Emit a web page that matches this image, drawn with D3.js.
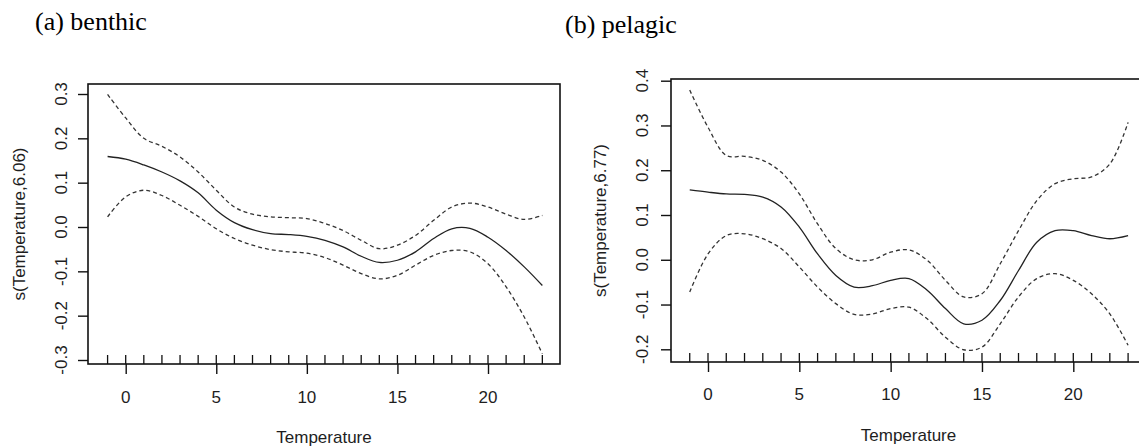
<!DOCTYPE html>
<html><head><meta charset="utf-8">
<script src="https://cdn.jsdelivr.net/npm/d3@7"></script>
<style>
html,body{margin:0;padding:0;background:#fff;}
svg{display:block;}
</style></head>
<body>
<svg id="chart" width="1139" height="448"></svg>
<script>
// ---------- data ----------
const temperature = [-1,0,1,2,3,4,5,6,7,8,9,10,11,12,13,14,15,16,17,18,19,20,21,22,23];

const benthicFit   = [0.159,0.153,0.140,0.124,0.104,0.077,0.038,0.010,-0.006,-0.015,-0.017,-0.021,-0.030,-0.045,-0.066,-0.080,-0.075,-0.056,-0.026,-0.004,-0.003,-0.023,-0.053,-0.090,-0.132];
const benthicUpper = [0.299,0.246,0.200,0.182,0.158,0.124,0.083,0.045,0.029,0.023,0.021,0.019,0.008,-0.008,-0.030,-0.049,-0.041,-0.019,0.015,0.045,0.054,0.045,0.029,0.017,0.026];
const benthicLower = [0.023,0.068,0.083,0.071,0.049,0.024,-0.004,-0.026,-0.041,-0.051,-0.056,-0.059,-0.069,-0.086,-0.105,-0.117,-0.109,-0.086,-0.064,-0.053,-0.056,-0.083,-0.135,-0.203,-0.286];

const pelagicFit   = [0.156,0.151,0.147,0.146,0.140,0.118,0.073,0.013,-0.035,-0.061,-0.058,-0.046,-0.042,-0.068,-0.109,-0.143,-0.135,-0.091,-0.024,0.039,0.065,0.065,0.054,0.047,0.054];
const pelagicUpper = [0.379,0.296,0.233,0.231,0.222,0.196,0.147,0.080,0.025,0.000,0.000,0.017,0.022,-0.001,-0.046,-0.083,-0.076,-0.009,0.065,0.132,0.170,0.181,0.185,0.214,0.307];
const pelagicLower = [-0.072,0.013,0.054,0.058,0.047,0.025,-0.016,-0.061,-0.098,-0.122,-0.121,-0.109,-0.106,-0.132,-0.173,-0.201,-0.195,-0.143,-0.083,-0.042,-0.031,-0.046,-0.076,-0.121,-0.191];

const xTicks  = [0,5,10,15,20];
const yTicksA = [-0.3,-0.2,-0.1,0.0,0.1,0.2,0.3];
const yTicksB = [-0.2,-0.1,0.0,0.1,0.2,0.3,0.4];

const titles = ["(a) benthic","(b) pelagic"];
const yTitles = ["s(Temperature,6.06)","s(Temperature,6.77)"];
const xTitle = "Temperature";

// ---------- layout ----------
const panels = [
  {title:titles[0], yTitle:yTitles[0], fit:benthicFit, up:benthicUpper, lo:benthicLower, yTicks:yTicksA,
   box:{x0:88,x1:560,y0:84,y1:364}, xr:[125.7,488.0], yd:[-0.3,0.3], yr:[360,94],
   titlePos:[35,30], yLabBase:67, yTitleBase:25, xLabBase:403, xTitleBase:443},
  {title:titles[1], yTitle:yTitles[1], fit:pelagicFit, up:pelagicUpper, lo:pelagicLower, yTicks:yTicksB,
   box:{x0:671,x1:1146,y0:79,y1:362}, xr:[708.0,1073.3], yd:[-0.2,0.4], yr:[349.3,80.7],
   titlePos:[565,33], yLabBase:648, yTitleBase:606, xLabBase:400, xTitleBase:441}
];

const svg = d3.select("#chart");
const axisFont = "'Liberation Sans', Arial, sans-serif";
const textCol = "#1e1e1e";
const fmt = v => d3.format(".1f")(v).replace("\u2212", "-");

panels.forEach(p => {
  const x = d3.scaleLinear().domain([0,20]).range(p.xr);
  const y = d3.scaleLinear().domain(p.yd).range(p.yr);
  const g = svg.append("g");
  const b = p.box;

  // title
  svg.append("text").attr("x",p.titlePos[0]).attr("y",p.titlePos[1])
    .attr("font-family","'Liberation Serif','Times New Roman',serif").attr("font-size",26)
    .attr("fill","#000").text(p.title);

  // box
  g.append("rect").attr("x",b.x0).attr("y",b.y0).attr("width",b.x1-b.x0).attr("height",b.y1-b.y0)
    .attr("fill","none").attr("stroke","#111").attr("stroke-width",1.6);

  // y axis ticks
  const yAxis = d3.axisLeft(y).tickValues(p.yTicks).tickSize(10).tickFormat(fmt);
  const ya = g.append("g").attr("transform",`translate(${b.x0},0)`).call(yAxis);
  ya.select(".domain").remove();
  ya.selectAll(".tick line").attr("stroke","#111").attr("stroke-width",1.4);
  ya.selectAll(".tick text").remove();
  p.yTicks.forEach(v => {
    g.append("text")
      .attr("transform",`translate(${p.yLabBase},${y(v)}) rotate(-90)`)
      .attr("text-anchor","middle").attr("font-family",axisFont).attr("font-size",17)
      .attr("fill",textCol).text(fmt(v));
  });

  // x axis major ticks
  const xAxis = d3.axisBottom(x).tickValues(xTicks).tickSize(10).tickFormat(d3.format("d"));
  const xa = g.append("g").attr("transform",`translate(0,${b.y1})`).call(xAxis);
  xa.select(".domain").remove();
  xa.selectAll(".tick line").attr("stroke","#111").attr("stroke-width",1.4);
  xa.selectAll(".tick text").remove();
  xTicks.forEach(v => {
    g.append("text").attr("x",x(v)).attr("y",p.xLabBase).attr("text-anchor","middle")
      .attr("font-family",axisFont).attr("font-size",17).attr("fill",textCol).text(v);
  });

  // rug
  g.selectAll("line.rug").data(temperature).enter().append("line")
    .attr("x1",d=>x(d)).attr("x2",d=>x(d)).attr("y1",b.y1).attr("y2",b.y1-9)
    .attr("stroke","#111").attr("stroke-width",1.3);

  // titles
  g.append("text").attr("x",(b.x0+b.x1)/2).attr("y",p.xTitleBase).attr("text-anchor","middle")
    .attr("font-family",axisFont).attr("font-size",17).attr("fill",textCol).text(xTitle);
  g.append("text").attr("transform",`translate(${p.yTitleBase},${(b.y0+b.y1)/2}) rotate(-90)`)
    .attr("text-anchor","middle").attr("font-family",axisFont).attr("font-size",17)
    .attr("fill",textCol).text(p.yTitle);

  // curves
  const line = d3.line().x((d,i)=>x(temperature[i])).y(d=>y(d)).curve(d3.curveCatmullRom.alpha(0.5));
  g.append("path").attr("d",line(p.up)).attr("fill","none").attr("stroke","#333")
    .attr("stroke-width",1.3).attr("stroke-dasharray","4,3");
  g.append("path").attr("d",line(p.lo)).attr("fill","none").attr("stroke","#333")
    .attr("stroke-width",1.3).attr("stroke-dasharray","4,3");
  g.append("path").attr("d",line(p.fit)).attr("fill","none").attr("stroke","#222")
    .attr("stroke-width",1.3);
});
</script>
</body></html>
